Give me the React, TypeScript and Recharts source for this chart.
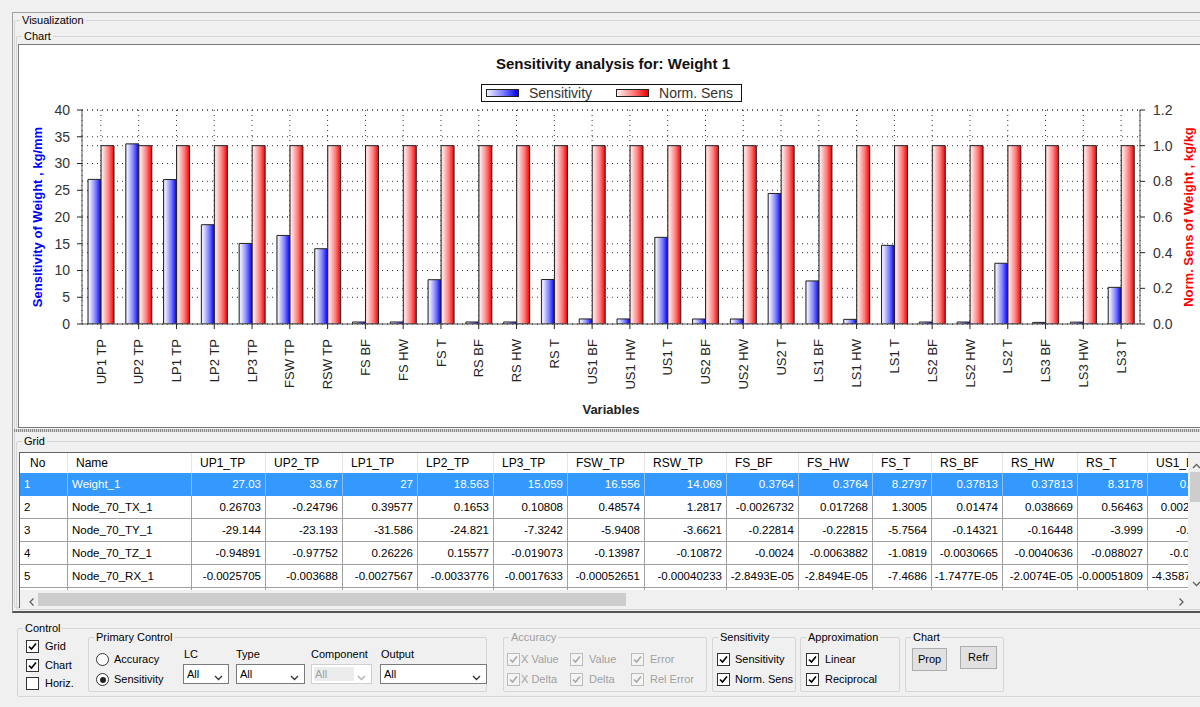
import React from "react";
import { BarChart, Bar, XAxis, YAxis, CartesianGrid, Legend } from "recharts";

const FONT = "Arial, 'Liberation Sans', sans-serif";

const variables = [
  "UP1 TP", "UP2 TP", "LP1 TP", "LP2 TP", "LP3 TP", "FSW TP", "RSW TP",
  "FS BF", "FS HW", "FS T", "RS BF", "RS HW", "RS T",
  "US1 BF", "US1 HW", "US1 T", "US2 BF", "US2 HW", "US2 T",
  "LS1 BF", "LS1 HW", "LS1 T", "LS2 BF", "LS2 HW", "LS2 T",
  "LS3 BF", "LS3 HW", "LS3 T",
];
const sensitivity = [
  27.03, 33.67, 27, 18.563, 15.059, 16.556, 14.069,
  0.3764, 0.3764, 8.2797, 0.37813, 0.37813, 8.3178,
  0.9461, 0.9461, 16.2, 0.9377, 0.9377, 24.4,
  8.05, 0.87, 14.7, 0.37, 0.37, 11.35,
  0.3, 0.35, 6.85,
];
const normSens = [
  1, 1, 1, 1, 1, 1, 1, 1, 1, 1, 1, 1, 1, 1,
  1, 1, 1, 1, 1, 1, 1, 1, 1, 1, 1, 1, 1, 1,
];
const leftTicks = [0, 5, 10, 15, 20, 25, 30, 35, 40];
const rightTicks = [0, 0.2, 0.4, 0.6, 0.8, 1.0, 1.2];
const leftMinorTicks = [
  1, 2, 3, 4, 6, 7, 8, 9, 11, 12, 13, 14, 16, 17, 18, 19,
  21, 22, 23, 24, 26, 27, 28, 29, 31, 32, 33, 34, 36, 37, 38, 39,
];
const rightMinorTicks = [
  0.04, 0.08, 0.12, 0.16, 0.24, 0.28, 0.32, 0.36, 0.44, 0.48, 0.52, 0.56,
  0.64, 0.68, 0.72, 0.76, 0.84, 0.88, 0.92, 0.96, 1.04, 1.08, 1.12, 1.16,
];
const legendOrder = ["sens", "norm"];

// grid (table) below the chart
const gridNames = ["Weight_1", "Node_70_TX_1", "Node_70_TY_1", "Node_70_TZ_1", "Node_70_RX_1"];
const gridHeaders = [
  "UP1_TP", "UP2_TP", "LP1_TP", "LP2_TP", "LP3_TP", "FSW_TP", "RSW_TP",
  "FS_BF", "FS_HW", "FS_T", "RS_BF", "RS_HW", "RS_T", "US1_BF",
];
const rowTX = ["0.26703", "-0.24796", "0.39577", "0.1653", "0.10808", "0.48574", "1.2817", "-0.0026732", "0.017268", "1.3005", "0.01474", "0.038669", "0.56463", "0.0026853"];
const rowTY = ["-29.144", "-23.193", "-31.586", "-24.821", "-7.3242", "-5.9408", "-3.6621", "-0.22814", "-0.22815", "-5.7564", "-0.14321", "-0.16448", "-3.999", "-0.9136"];
const rowTZ = ["-0.94891", "-0.97752", "0.26226", "0.15577", "-0.019073", "-0.13987", "-0.10872", "-0.0024", "-0.0063882", "-1.0819", "-0.0030665", "-0.0040636", "-0.088027", "-0.01985"];
const rowRX = ["-0.0025705", "-0.003688", "-0.0027567", "-0.0033776", "-0.0017633", "-0.00052651", "-0.00040233", "-2.8493E-05", "-2.8494E-05", "-7.4686", "-1.7477E-05", "-2.0074E-05", "-0.00051809", "-4.3587E-05"];
const colWidths = [48, 124, 74, 77, 75, 76, 74, 77, 82, 72, 74, 59, 71, 75, 70, 72];

const chartData = variables.map((name, i) => ({
  name,
  sens: sensitivity[i],
  norm: normSens[i],
}));

const RotTick = (props: any) => {
  const { x, y, payload } = props;
  const yy = y + 8;
  return (
    <text
      x={x}
      y={yy}
      transform={`rotate(-90, ${x}, ${yy})`}
      textAnchor="end"
      dy="0.36em"
      fontSize={13}
      fontFamily={FONT}
      fill="#222"
    >
      {payload.value}
    </text>
  );
};

const LegendBox = (props: any) => {
  const items = [...(props.payload || [])].sort(
    (a: any, b: any) => legendOrder.indexOf(a.dataKey) - legendOrder.indexOf(b.dataKey)
  );
  const grad: Record<string, string> = {
    sens: "linear-gradient(to right, #f0f0ff, #9090ff 45%, #0000f0)",
    norm: "linear-gradient(to right, #fff0f0, #ff9090 45%, #f00000)",
  };
  return (
    <div
      style={{
        boxSizing: "border-box",
        width: 261,
        height: 18,
        border: "1px solid #111",
        background: "#fff",
        display: "flex",
        alignItems: "center",
        fontFamily: FONT,
        fontSize: 14,
        color: "#333",
      }}
    >
      {items.map((it: any, i: number) => (
        <div key={i} style={{ display: "flex", alignItems: "center", marginLeft: i === 0 ? 4 : 24 }}>
          <div
            style={{
              width: 33,
              height: 8,
              boxSizing: "border-box",
              border: "1px solid #222",
              background: grad[it.dataKey],
              marginRight: 10,
            }}
          />
          <span style={{ lineHeight: "16px" }}>{it.value}</span>
        </div>
      ))}
    </div>
  );
};

const T = ({ x, y, children, color = "#000", size = 11 }: any) => (
  <div
    style={{
      position: "absolute",
      left: x,
      top: y - 7,
      lineHeight: "14px",
      fontSize: size,
      color,
      whiteSpace: "nowrap",
    }}
  >
    {children}
  </div>
);

const GroupBox = ({ x, y, w, h, label, color = "#000" }: any) => (
  <>
    <div
      style={{
        position: "absolute",
        left: x,
        top: y,
        width: w,
        height: h,
        border: "1px solid #d5d5d5",
        borderRadius: 2,
        boxSizing: "border-box",
      }}
    />
    <div
      style={{
        position: "absolute",
        left: x + 6,
        top: y - 7,
        lineHeight: "14px",
        padding: "0 2px",
        background: "#f0f0f0",
        fontSize: 11,
        color,
        whiteSpace: "nowrap",
      }}
    >
      {label}
    </div>
  </>
);

const Check = ({ x, y, disabled = false }: any) => (
  <div
    style={{
      position: "absolute",
      left: x,
      top: y,
      width: 13,
      height: 13,
      boxSizing: "border-box",
      border: `1px solid ${disabled ? "#bcbcbc" : "#333"}`,
      background: disabled ? "#f4f4f4" : "#fff",
    }}
  >
    <svg width={11} height={11} style={{ position: "absolute", left: 0, top: 0 }}>
      <polyline
        points="2,5.5 4.5,8 9,2.5"
        fill="none"
        stroke={disabled ? "#a8a8a8" : "#000"}
        strokeWidth={1.6}
      />
    </svg>
  </div>
);

const EmptyCheck = ({ x, y }: any) => (
  <div
    style={{
      position: "absolute",
      left: x,
      top: y,
      width: 13,
      height: 13,
      boxSizing: "border-box",
      border: "1px solid #333",
      background: "#fff",
    }}
  />
);

const Radio = ({ x, y, on }: any) => (
  <div
    style={{
      position: "absolute",
      left: x,
      top: y,
      width: 13,
      height: 13,
      boxSizing: "border-box",
      border: "1px solid #333",
      borderRadius: "50%",
      background: "#fff",
    }}
  >
    {on && (
      <div
        style={{
          position: "absolute",
          left: 2.5,
          top: 2.5,
          width: 6,
          height: 6,
          borderRadius: "50%",
          background: "#222",
        }}
      />
    )}
  </div>
);

const Chevron = ({ color = "#333" }: any) => (
  <svg width={9} height={6}>
    <polyline points="1,1 4.5,4.5 8,1" fill="none" stroke={color} strokeWidth={1.3} />
  </svg>
);

const Select = ({ x, y, w, disabled = false }: any) => (
  <div
    style={{
      position: "absolute",
      left: x,
      top: y,
      width: w,
      height: 20,
      boxSizing: "border-box",
      border: `1px solid ${disabled ? "#cfcfcf" : "#7a7a7a"}`,
      background: "#fff",
    }}
  >
    <div
      style={{
        position: "absolute",
        left: 2,
        top: 2,
        width: disabled ? w - 22 : w - 20,
        height: 14,
        background: disabled ? "#ececec" : "transparent",
        fontSize: 11,
        lineHeight: "14px",
        paddingLeft: 1,
        color: disabled ? "#a0a0a0" : "#000",
      }}
    >
      All
    </div>
    <div style={{ position: "absolute", right: 5, top: 6 }}>
      <Chevron color={disabled ? "#b0b0b0" : "#333"} />
    </div>
  </div>
);

const Button = ({ x, y, w, h, label }: any) => (
  <div
    style={{
      position: "absolute",
      left: x,
      top: y,
      width: w,
      height: h,
      boxSizing: "border-box",
      border: "1px solid #adadad",
      background: "#e1e1e1",
      fontSize: 11,
      lineHeight: `${h - 2}px`,
      textAlign: "center",
    }}
  >
    {label}
  </div>
);

const Grid = () => {
  const rows = [
    ["1", gridNames[0], ...sensitivity.slice(0, 13).map(String), "0.9461"],
    ["2", gridNames[1], ...rowTX],
    ["3", gridNames[2], ...rowTY],
    ["4", gridNames[3], ...rowTZ],
    ["5", gridNames[4], ...rowRX],
    ["6", "", ...gridHeaders.map(() => "")],
  ];
  const cell = (w: number): React.CSSProperties => ({
    width: w,
    minWidth: w,
    maxWidth: w,
    boxSizing: "border-box",
    overflow: "hidden",
    whiteSpace: "nowrap",
  });
  return (
    <div
      style={{
        position: "absolute",
        left: 19,
        top: 452,
        width: 1169,
        height: 138,
        overflow: "hidden",
        borderLeft: "1px solid #646464",
        borderTop: "1px solid #646464",
        boxSizing: "border-box",
        background: "#fff",
      }}
    >
      <div style={{ display: "flex", height: 20, fontSize: 12, background: "#fff" }}>
        {["No", "Name", ...gridHeaders].map((h, i) => (
          <div
            key={i}
            style={{
              ...cell(colWidths[i]),
              lineHeight: "20px",
              paddingLeft: i === 0 ? 10 : 8,
              borderRight: "1px solid #e5e5e5",
              color: "#000",
            }}
          >
            {h}
          </div>
        ))}
      </div>
      {rows.map((r, ri) => (
        <div
          key={ri}
          style={{
            display: "flex",
            height: 23,
            fontSize: 11.5,
            background: ri === 0 ? "#3399ff" : "#fff",
            color: ri === 0 ? "#fff" : "#000",
          }}
        >
          {r.map((v, ci) => (
            <div
              key={ci}
              style={{
                ...cell(colWidths[ci]),
                lineHeight: "22px",
                borderRight: `1px solid ${ri === 0 ? "#8cc0f5" : "#a0a0a0"}`,
                borderBottom: `1px solid ${ri === 0 ? "#3399ff" : "#a0a0a0"}`,
                textAlign: ci < 2 ? "left" : "right",
                paddingLeft: ci < 2 ? 4 : 0,
                paddingRight: ci < 2 ? 0 : 4,
              }}
            >
              {v}
            </div>
          ))}
        </div>
      ))}
    </div>
  );
};

export default function App() {
  return (
    <div
      style={{
        position: "fixed",
        left: 0,
        top: 0,
        width: 1200,
        height: 707,
        overflow: "hidden",
        background: "#f0f0f0",
        fontFamily: FONT,
        fontSize: 11,
        color: "#000",
      }}
    >
      {/* outer frame */}
      <div
        style={{
          position: "absolute",
          left: 12,
          top: 12,
          width: 1200,
          height: 598,
          borderLeft: "1px solid #a0a0a0",
          borderTop: "1px solid #a0a0a0",
          borderBottom: "2px solid #555",
        }}
      />
      <GroupBox x={14} y={20} w={1200} h={588} label="Visualization" />
      <GroupBox x={16} y={36} w={1200} h={392} label="Chart" />

      {/* chart panel */}
      <div
        style={{
          position: "absolute",
          left: 18,
          top: 44,
          width: 1190,
          height: 384,
          boxSizing: "border-box",
          border: "1px solid #7a7a7a",
          background: "#fff",
        }}
      />
      <div
        style={{
          position: "absolute",
          left: 413,
          top: 55,
          width: 400,
          textAlign: "center",
          fontSize: 15,
          fontWeight: "bold",
          lineHeight: "18px",
          color: "#111",
        }}
      >
        Sensitivity analysis for: Weight 1
      </div>
      <div style={{ position: "absolute", left: 19, top: 45 }}>
        <BarChart
          width={1181}
          height={381}
          data={chartData}
          margin={{ top: 65, right: 0, bottom: 0, left: 0 }}
          barGap={0}
          barSize={13}
        >
          <defs>
            <linearGradient id="gBlue" x1="0" y1="0" x2="1" y2="0">
              <stop offset="0" stopColor="#d0d0ff" />
              <stop offset="0.12" stopColor="#eeeeff" />
              <stop offset="0.6" stopColor="#7a7aff" />
              <stop offset="1" stopColor="#0000f0" />
            </linearGradient>
            <linearGradient id="gRed" x1="0" y1="0" x2="1" y2="0">
              <stop offset="0" stopColor="#ffb0b0" />
              <stop offset="0.12" stopColor="#ffe6e6" />
              <stop offset="0.6" stopColor="#ff7a7a" />
              <stop offset="1" stopColor="#f00000" />
            </linearGradient>
          </defs>
          <CartesianGrid yAxisId="left" stroke="#333" strokeDasharray="1 4" />
          <CartesianGrid yAxisId="right" vertical={false} stroke="#333" strokeDasharray="1 4" />
          <XAxis
            dataKey="name"
            interval={0}
            height={102}
            tickSize={5}
            tick={<RotTick />}
            tickLine={{ stroke: "#222" }}
            axisLine={{ stroke: "#555" }}
            label={{
              value: "Variables",
              position: "insideBottom",
              offset: 12,
              style: { fontWeight: "bold", fontSize: 13, fill: "#222", fontFamily: FONT },
            }}
          />
          <XAxis
            xAxisId="top"
            dataKey="name"
            orientation="top"
            height={0}
            tick={false}
            tickLine={false}
            axisLine={{ stroke: "#555" }}
          />
          <YAxis
            yAxisId="left"
            domain={[0, 40]}
            ticks={leftTicks}
            interval={0}
            allowDataOverflow
            width={63}
            tickSize={5}
            tickMargin={7}
            tick={{ fontSize: 14, fill: "#333", fontFamily: FONT }}
            tickLine={{ stroke: "#222" }}
            axisLine={{ stroke: "#555" }}
            label={{
              value: "Sensitivity of Weight , kg/mm",
              angle: -90,
              position: "center",
              dx: -13,
              style: { fill: "#0000ff", fontWeight: "bold", fontSize: 13, fontFamily: FONT },
            }}
          />
          <YAxis
            yAxisId="right"
            orientation="right"
            domain={[0, 1.2]}
            ticks={rightTicks}
            interval={0}
            allowDataOverflow
            tickFormatter={(v: number) => v.toFixed(1)}
            width={60}
            tickSize={5}
            tickMargin={8}
            tick={{ fontSize: 14, fill: "#333", fontFamily: FONT }}
            tickLine={{ stroke: "#222" }}
            axisLine={{ stroke: "#555" }}
            label={{
              value: "Norm. Sens of Weight , kg/kg",
              angle: -90,
              position: "center",
              dx: 18,
              style: { fill: "#ff0000", fontWeight: "bold", fontSize: 13, fontFamily: FONT },
            }}
          />
          <YAxis
            yAxisId="leftMinor"
            mirror
            domain={[0, 40]}
            ticks={leftMinorTicks}
            interval={0}
            allowDataOverflow
            width={0}
            tickSize={3}
            tick={false}
            axisLine={false}
            tickLine={{ stroke: "#222" }}
          />
          <YAxis
            yAxisId="rightMinor"
            orientation="right"
            mirror
            domain={[0, 1.2]}
            ticks={rightMinorTicks}
            interval={0}
            allowDataOverflow
            width={0}
            tickSize={3}
            tick={false}
            axisLine={false}
            tickLine={{ stroke: "#222" }}
          />
          <Legend
            verticalAlign="middle"
            align="center"
            layout="horizontal"
            wrapperStyle={{ position: "absolute", top: 39, left: 462, width: 261, height: 18 }}
            content={<LegendBox />}
          />
          <Bar
            yAxisId="left"
            dataKey="sens"
            name="Sensitivity"
            fill="url(#gBlue)"
            stroke="#222"
            strokeWidth={1}
            isAnimationActive={false}
          />
          <Bar
            yAxisId="right"
            dataKey="norm"
            name="Norm. Sens"
            fill="url(#gRed)"
            stroke="#222"
            strokeWidth={1}
            isAnimationActive={false}
          />
        </BarChart>
      </div>

      {/* splitter */}
      <div
        style={{
          position: "absolute",
          left: 14,
          top: 429,
          width: 1190,
          height: 3,
          background: "repeating-linear-gradient(90deg, #8a8a8a 0 1px, #d8d8d8 1px 2px)",
        }}
      />

      {/* grid group */}
      <GroupBox x={16} y={441} w={1200} h={169} label="Grid" />
      <Grid />
      {/* vertical scrollbar */}
      <div
        style={{
          position: "absolute",
          left: 1188,
          top: 452,
          width: 17,
          height: 138,
          background: "#f0f0f0",
          borderTop: "1px solid #646464",
        }}
      >
        <div style={{ position: "absolute", left: 4, top: 8, transform: "rotate(180deg)" }}>
          <Chevron color="#606060" />
        </div>
        <div
          style={{ position: "absolute", left: 2, top: 19, width: 13, height: 30, background: "#cdcdcd" }}
        />
        <div style={{ position: "absolute", left: 4, top: 124 }}>
          <Chevron color="#606060" />
        </div>
      </div>
      {/* horizontal scrollbar */}
      <div
        style={{
          position: "absolute",
          left: 19,
          top: 590,
          width: 1190,
          height: 18,
          background: "#f0f0f0",
          borderLeft: "1px solid #646464",
        }}
      >
        <div style={{ position: "absolute", left: 8, top: 6, transform: "rotate(90deg)" }}>
          <Chevron color="#606060" />
        </div>
        <div
          style={{ position: "absolute", left: 18, top: 3, width: 588, height: 13, background: "#cdcdcd" }}
        />
        <div style={{ position: "absolute", left: 1156, top: 6, transform: "rotate(-90deg)" }}>
          <Chevron color="#606060" />
        </div>
      </div>

      {/* control area */}
      <GroupBox x={17} y={628} w={1200} h={69} label="Control" />
      <Check x={26} y={640} />
      <T x={45} y={646}>Grid</T>
      <Check x={26} y={659} />
      <T x={45} y={665}>Chart</T>
      <EmptyCheck x={26} y={677} />
      <T x={45} y={683}>Horiz.</T>

      <GroupBox x={88} y={637} w={399} h={55} label="Primary Control" />
      <Radio x={96} y={653} />
      <T x={114} y={659}>Accuracy</T>
      <Radio x={96} y={673} on />
      <T x={114} y={679}>Sensitivity</T>
      <T x={184} y={654}>LC</T>
      <Select x={183} y={664} w={46} />
      <T x={236} y={654}>Type</T>
      <Select x={236} y={664} w={69} />
      <T x={311} y={654}>Component</T>
      <Select x={311} y={664} w={61} disabled />
      <T x={381} y={654}>Output</T>
      <Select x={380} y={664} w={107} />

      <GroupBox x={503} y={637} w={204} h={55} label="Accuracy" color="#a0a0a0" />
      <Check x={507} y={653} disabled />
      <T x={521} y={659} color="#a0a0a0">X Value</T>
      <Check x={570} y={653} disabled />
      <T x={589} y={659} color="#a0a0a0">Value</T>
      <Check x={631} y={653} disabled />
      <T x={650} y={659} color="#a0a0a0">Error</T>
      <Check x={507} y={673} disabled />
      <T x={521} y={679} color="#a0a0a0">X Delta</T>
      <Check x={570} y={673} disabled />
      <T x={589} y={679} color="#a0a0a0">Delta</T>
      <Check x={631} y={673} disabled />
      <T x={650} y={679} color="#a0a0a0">Rel Error</T>

      <GroupBox x={712} y={637} w={84} h={55} label="Sensitivity" />
      <Check x={717} y={653} />
      <T x={735} y={659}>Sensitivity</T>
      <Check x={717} y={673} />
      <T x={735} y={679}>Norm. Sens</T>

      <GroupBox x={800} y={637} w={100} h={55} label="Approximation" />
      <Check x={806} y={653} />
      <T x={825} y={659}>Linear</T>
      <Check x={806} y={673} />
      <T x={825} y={679}>Reciprocal</T>

      <GroupBox x={905} y={637} w={99} h={55} label="Chart" />
      <Button x={912} y={648} w={35} h={23} label="Prop" />
      <Button x={960} y={646} w={37} h={23} label="Refr" />
    </div>
  );
}
